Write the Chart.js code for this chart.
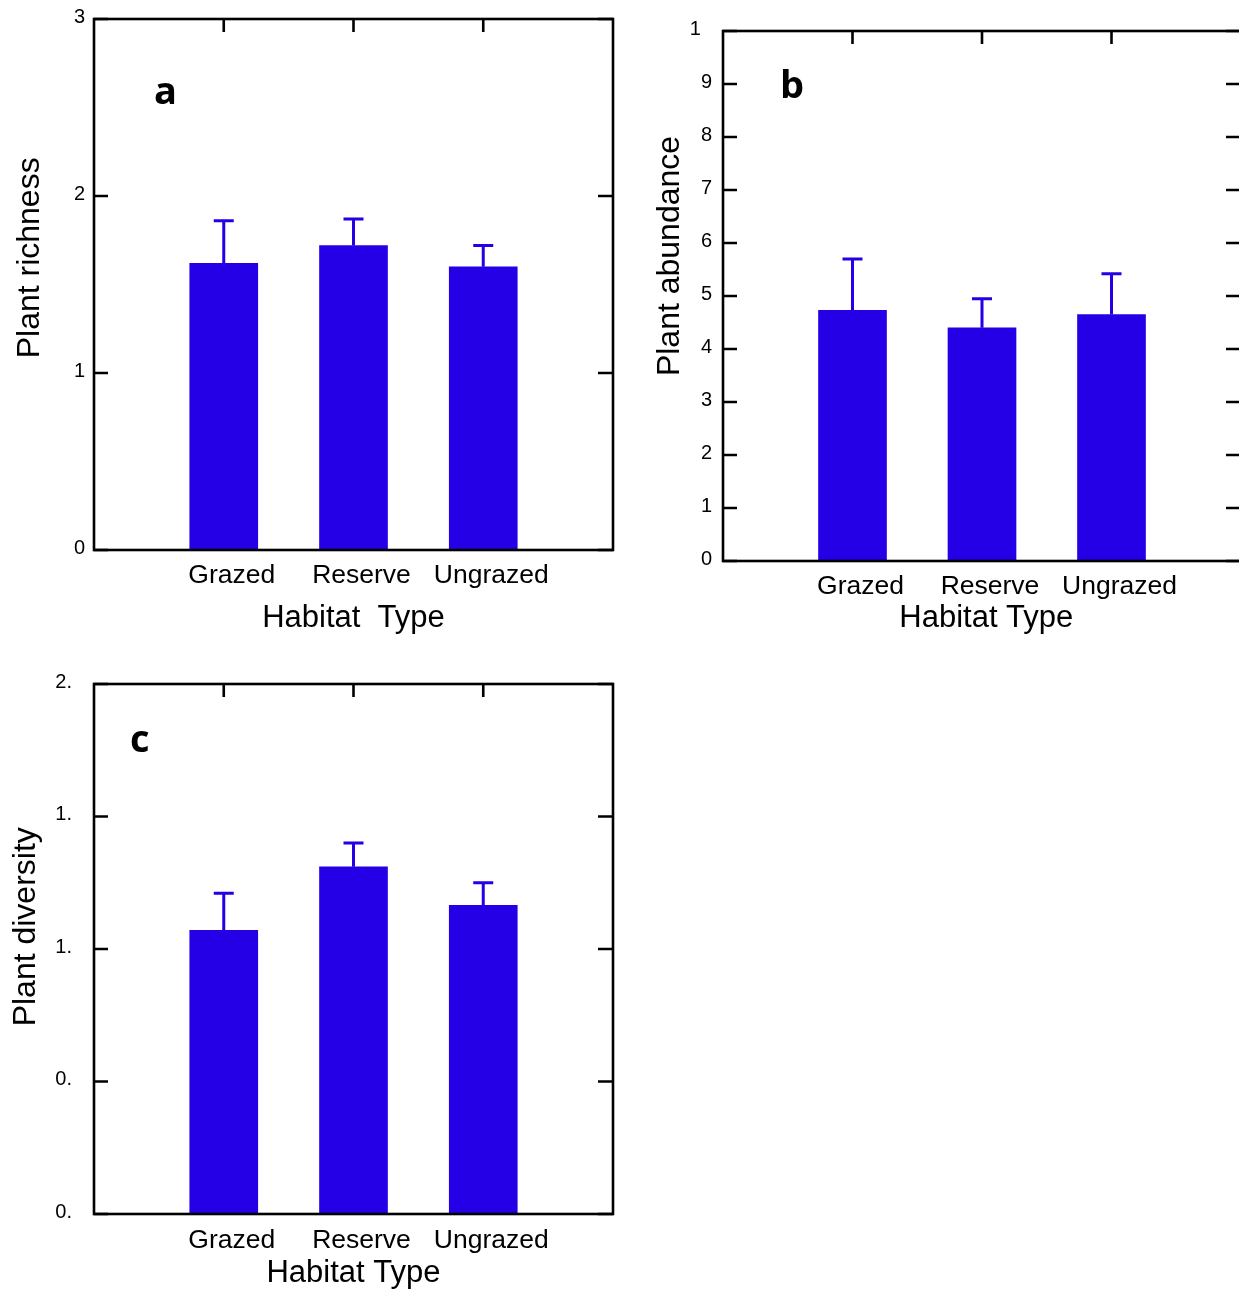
<!DOCTYPE html>
<html>
<head>
<meta charset="utf-8">
<script src="https://cdn.jsdelivr.net/npm/chart.js@4.4.1/dist/chart.umd.min.js"></script>
<style>
  html, body { margin: 0; padding: 0; width: 1239px; height: 1292px; overflow: hidden; background: #fff; }
  .panel { position: absolute; }
</style>
</head>
<body>
<div class="panel" style="left:0;top:0"><canvas id="chartA" width="620" height="645"></canvas></div>
<div class="panel" style="left:640px;top:0"><canvas id="chartB" width="620" height="645"></canvas></div>
<div class="panel" style="left:0;top:660px"><canvas id="chartC" width="620" height="632"></canvas></div>
<script>
const categories = ["Grazed", "Reserve", "Ungrazed"];

const richness = [1.62, 1.72, 1.6];
const richnessErr = [0.24, 0.15, 0.12];
const abundance = [4.73, 4.4, 4.65];
const abundanceErr = [0.97, 0.55, 0.77];
const diversity = [1.07, 1.31, 1.165];
const diversityErr = [0.14, 0.09, 0.085];

// tick labels as printed (the originals are clipped)
const yTicksA = ["0", "1", "2", "3"];
const yTicksB = ["0", "1", "2", "3", "4", "5", "6", "7", "8", "9", "1\u2007"];
const yTicksC = ["0.", "0.", "1.", "1.", "2."];

const barColor = "#2500e6";
const family = "'Liberation Sans', Arial, sans-serif";

// leading spaces push a centred axis title towards its end
let lead = (text, n) => " ".repeat(n) + text;

// error bars on top of each bar
let errorBars = {
  id: "errorBars",
  afterDatasetsDraw(chart) {
    let ctx = chart.ctx;
    let y = chart.scales.y;
    chart.data.datasets.forEach((ds, i) => {
      chart.getDatasetMeta(i).data.forEach((bar, j) => {
        let v = ds.data[j];
        if (v == null) return;
        let top = y.getPixelForValue(v + ds.errors[j]);
        ctx.save();
        ctx.strokeStyle = barColor;
        ctx.lineWidth = 3;
        ctx.beginPath();
        ctx.moveTo(bar.x, bar.y);
        ctx.lineTo(bar.x, top);
        ctx.moveTo(bar.x - 10, top);
        ctx.lineTo(bar.x + 10, top);
        ctx.stroke();
        ctx.restore();
      });
    });
  },
};

// box frame, inner ticks and the panel letter
let frame = {
  id: "frame",
  afterDraw(chart, args, opts) {
    let ctx = chart.ctx;
    let a = chart.chartArea;
    let sx = chart.scales.x, sy = chart.scales.y;
    ctx.save();
    ctx.strokeStyle = "#000";
    ctx.lineWidth = 2.6;
    ctx.strokeRect(a.left, a.top, a.right - a.left, a.bottom - a.top);
    ctx.beginPath();
    sy.ticks.forEach((t) => {
      let py = sy.getPixelForValue(t.value);
      ctx.moveTo(a.left, py);
      ctx.lineTo(a.left + 14, py);
      ctx.moveTo(a.right - 15, py);
      ctx.lineTo(a.right, py);
    });
    categories.forEach((c, i) => {
      let px = sx.getPixelForValue(i + 1);
      ctx.moveTo(px, a.top);
      ctx.lineTo(px, a.top + 13);
    });
    ctx.stroke();
    ctx.fillStyle = "#000";
    ctx.font = "bold 38px 'Open Sans'";
    ctx.fillText(opts.letter, opts.lx, opts.ly);
    ctx.restore();
  },
};

let noPad = (s) => {
  s.paddingTop = 0;
  s.paddingBottom = 0;
  s.paddingLeft = 0;
  s.paddingRight = 0;
};

let makeChart = (id, values, errors, yTicks, yMax, step, yTitle, xTitle, box) => {
  let canvas = document.getElementById(id);
  let W = canvas.width, H = canvas.height;
  return new Chart(canvas.getContext("2d"), {
    type: "bar",
    data: {
      labels: ["", ...categories, ""],
      datasets: [
        {
          data: [null, ...values, null],
          errors: [0, ...errors, 0],
          backgroundColor: barColor,
          borderWidth: 0,
          barThickness: 68,
        },
      ],
    },
    options: {
      responsive: false,
      animation: false,
      layout: { padding: { top: box.top, right: W - box.right, left: 0, bottom: 0 } },
      plugins: {
        legend: { display: false },
        tooltip: { enabled: false },
        frame: { letter: box.letter, lx: box.lx, ly: box.ly },
      },
      scales: {
        x: {
          type: "category",
          offset: false,
          grid: { display: false, drawTicks: false },
          border: { display: false },
          ticks: {
            autoSkip: false,
            maxRotation: 0,
            padding: box.xTickPad,
            labelOffset: 8,
            color: "#000",
            font: { family: family, size: 26.5 },
          },
          title: {
            display: true,
            text: xTitle,
            color: "#000",
            font: { family: family, size: 31 },
            padding: { top: 0, bottom: box.xTitlePad },
          },
          afterFit: (s) => {
            s.height = H - box.bottom;
            noPad(s);
          },
        },
        y: {
          min: 0,
          max: yMax,
          grid: { display: false, drawTicks: false },
          border: { display: false },
          ticks: {
            stepSize: step,
            padding: box.yTickPad,
            labelOffset: -2,
            color: "#000",
            font: { family: family, size: 20 },
            callback: (v, i) => yTicks[i],
          },
          title: {
            display: true,
            text: yTitle,
            color: "#000",
            font: { family: family, size: 32 },
            padding: { top: box.yTitlePad, bottom: 0 },
          },
          afterFit: (s) => {
            s.width = box.left;
            noPad(s);
          },
        },
      },
    },
    plugins: [errorBars, frame],
  });
};

let chartA = makeChart("chartA", richness, richnessErr, yTicksA, 3, 1, lead("Plant richness", 6), "Habitat  Type", {
  left: 94, top: 19, right: 613, bottom: 550,
  xTickPad: 10, xTitlePad: 8, yTickPad: 9, yTitlePad: 11,
  letter: "a", lx: 154, ly: 104,
});

let chartB = makeChart("chartB", abundance, abundanceErr, yTicksB, 10, 1, lead("Plant abundance", 9), lead("Habitat Type", 1), {
  left: 83, top: 31, right: 601, bottom: 561,
  xTickPad: 10, xTitlePad: 8, yTickPad: 11, yTitlePad: 11,
  letter: "b", lx: 140, ly: 98,
});

let chartC = makeChart("chartC", diversity, diversityErr, yTicksC, 2, 0.5, lead("Plant diversity", 5), "Habitat Type", {
  left: 94, top: 24, right: 613, bottom: 554,
  xTickPad: 11, xTitlePad: 0, yTickPad: 22, yTitlePad: 7,
  letter: "c", lx: 130, ly: 92,
});
</script>
</body>
</html>
